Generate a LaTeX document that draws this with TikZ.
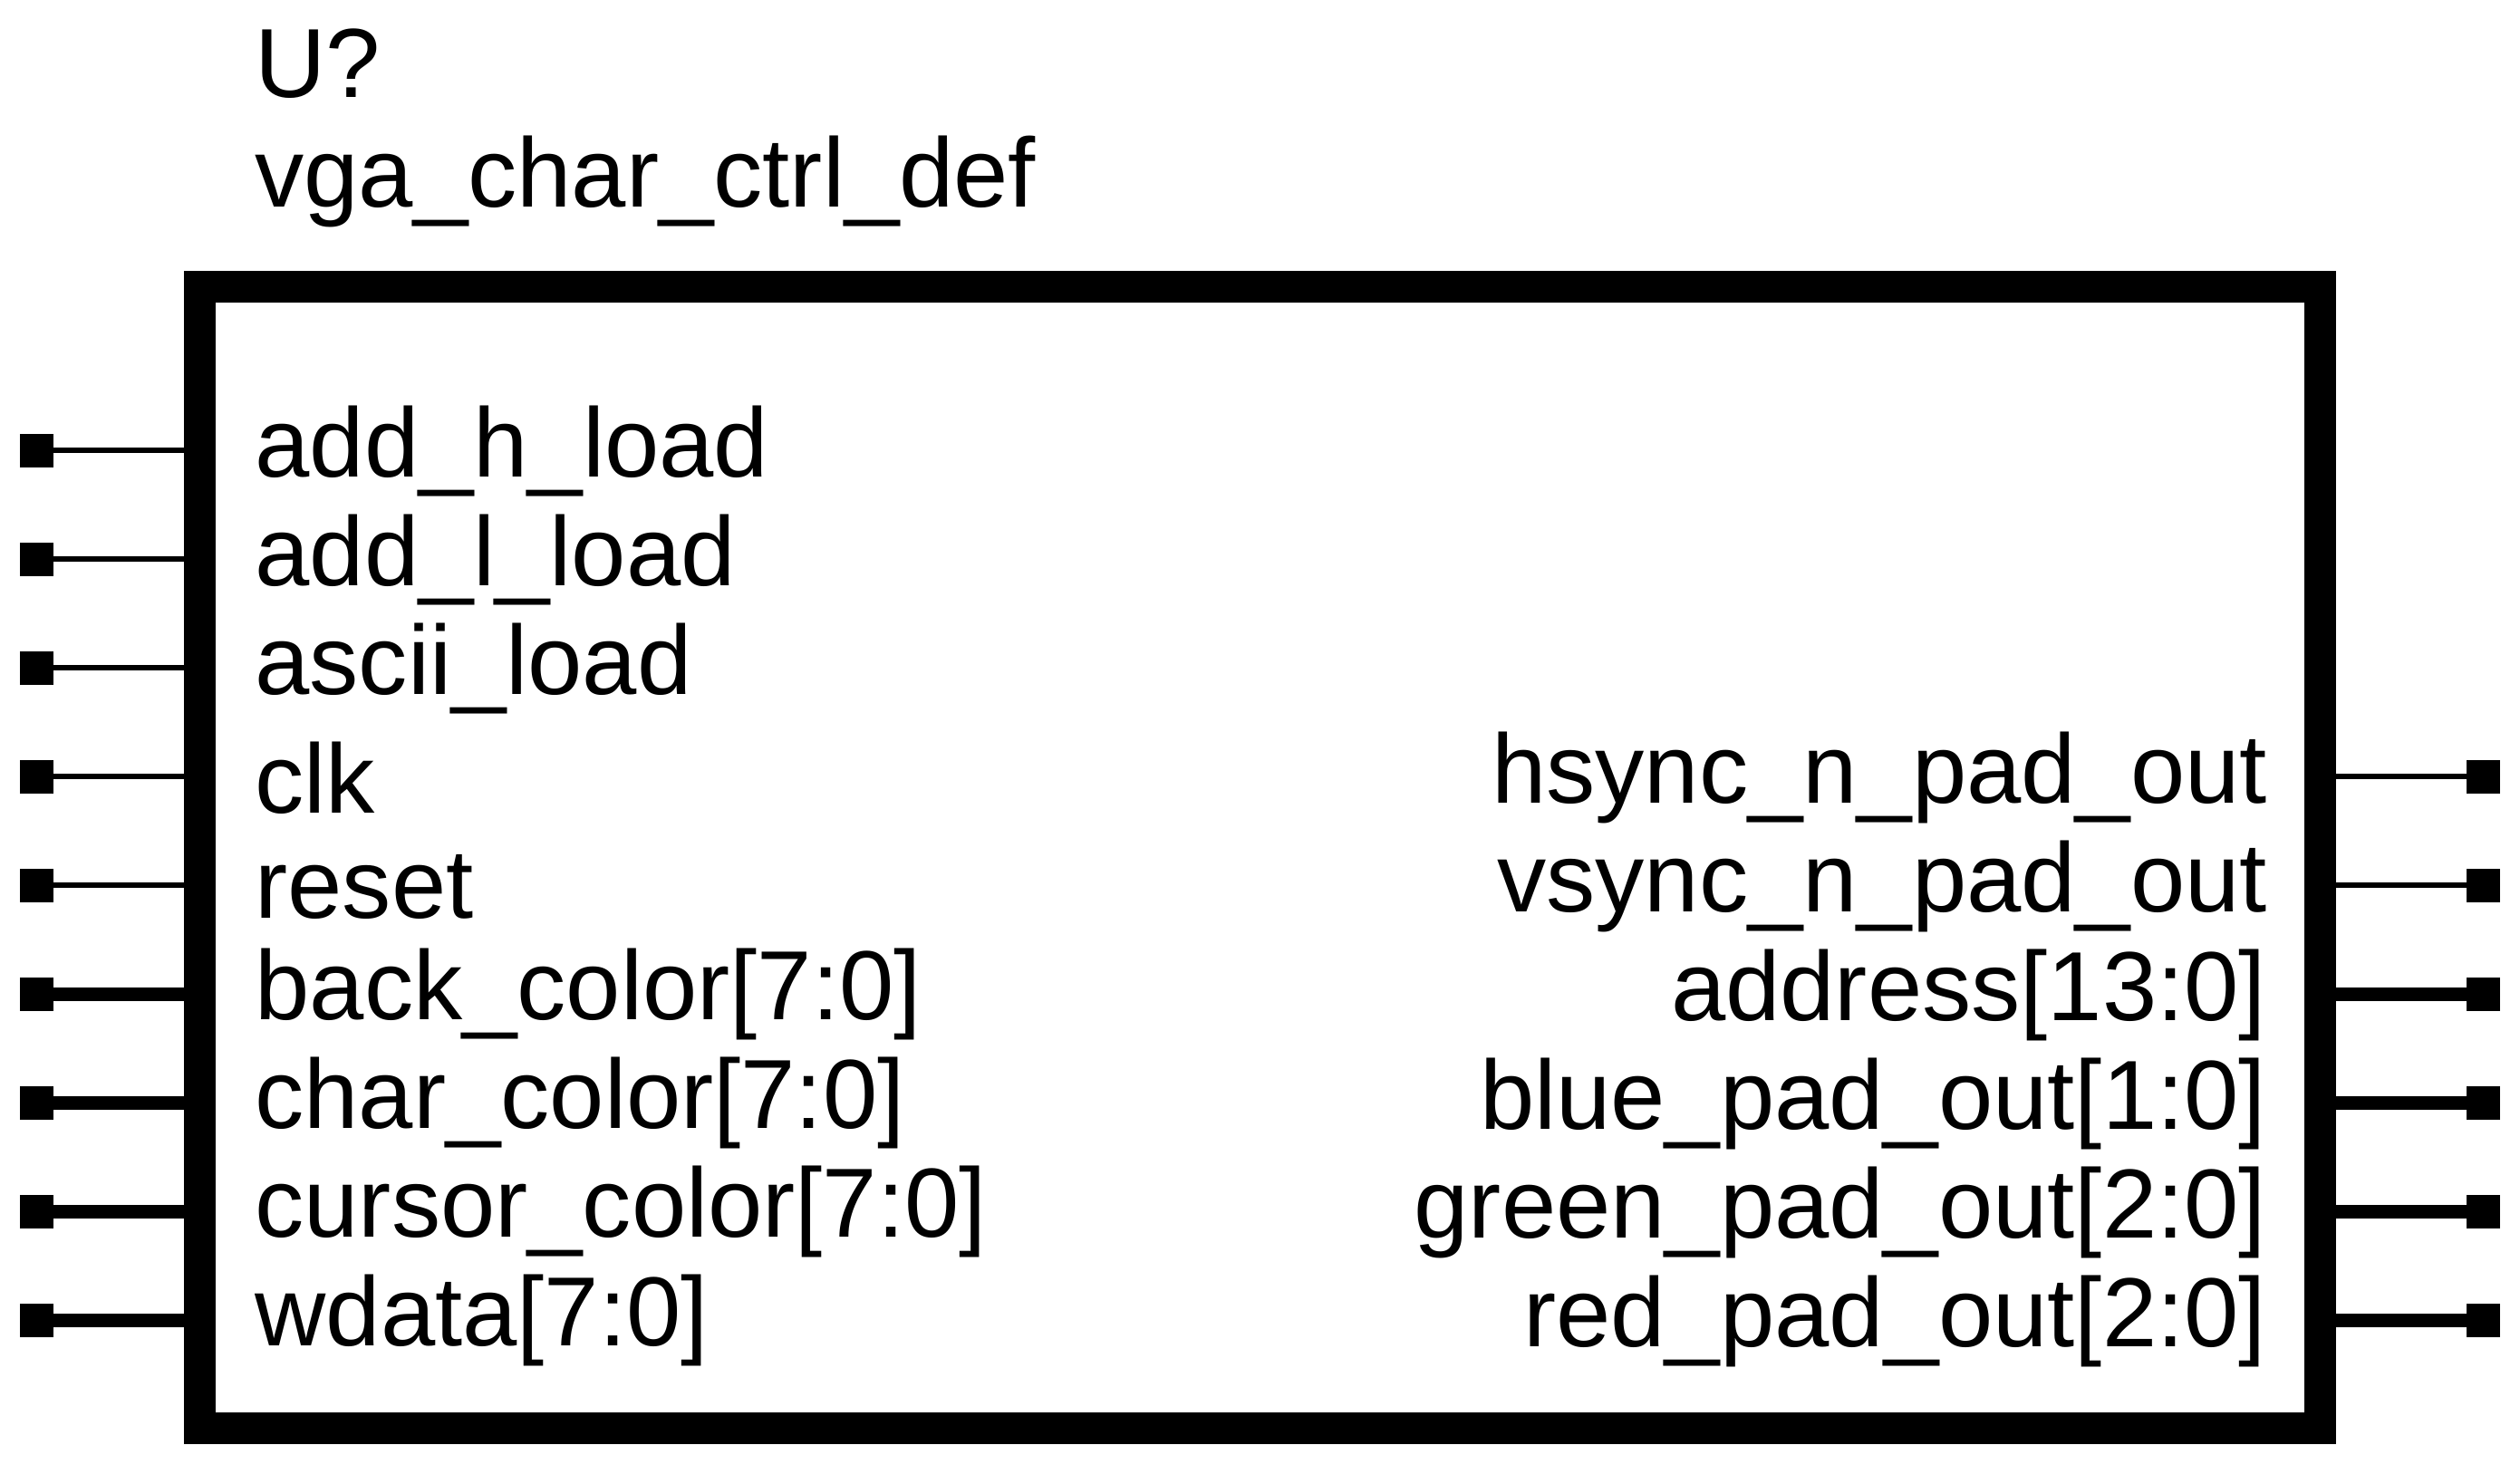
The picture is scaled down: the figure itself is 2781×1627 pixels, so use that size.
\documentclass[tikz,border=0pt]{standalone}
\usepackage{fontspec}
\setmainfont{Liberation Sans}
\tikzset{
  lbl/.style={inner sep=0pt,outer sep=0pt,font=\fontsize{108.4}{120}\selectfont},
  lleft/.style={lbl,anchor=base west},
  lright/.style={lbl,anchor=base east},
  pinsq/.style={fill=black,draw=none,minimum size=37pt,inner sep=0pt,outer sep=0pt},
  thinw/.style={line width=6.5pt},
  thickw/.style={line width=15pt},
  chip/.style={draw=black,fill=white,line width=35pt,rectangle,inner sep=0pt,outer sep=0pt,minimum width=2340pt,minimum height=1260pt}
}
\begin{document}
\begin{tikzpicture}[x=1pt,y=-1pt]
\useasboundingbox (0,0) rectangle (2781,1627);
\foreach \n/\y in {a/497,b/617,c/737,d/857,e/977,f/1097,g/1217,h/1337,i/1457}{
  \node[pinsq] (L\n) at (40.5,\y) {};
}
\foreach \n/\y in {d/857,e/977,f/1097,g/1217,h/1337,i/1457}{
  \node[pinsq] (R\n) at (2740,\y) {};
}
\node[chip] (box) at (1390,946) {};
\foreach \n in {a,b,c,d,e}{ \draw[thinw] (L\n.center) -- (L\n.center -| box.west); }
\foreach \n in {f,g,h,i}{ \draw[thickw] (L\n.center) -- (L\n.center -| box.west); }
\foreach \n in {d,e}{ \draw[thinw] (R\n.center) -- (R\n.center -| box.east); }
\foreach \n in {f,g,h,i}{ \draw[thickw] (R\n.center) -- (R\n.center -| box.east); }
\node[lleft] (t1) at (281.5,108) {U?};
\node[lleft] (t2) at (281.5,228) {vga\_char\_ctrl\_def};
\node[lleft] (p1) at (281.5,526) {add\_h\_load};
\node[lleft] (p2) at (281.5,646) {add\_l\_load};
\node[lleft] (p3) at (281.5,766) {ascii\_load};
\node[lleft] (p4) at (281.5,897) {clk};
\node[lleft] (p5) at (281.5,1013) {reset};
\node[lleft] (p6) at (281.5,1125) {back\_color[7:0]};
\node[lleft] (p7) at (281.5,1245) {char\_color[7:0]};
\node[lleft] (p8) at (281.5,1365) {cursor\_color[7:0]};
\node[lleft] (p9) at (281.5,1485) {wdata[7:0]};
\node[lright] (q1) at (2502,886) {hsync\_n\_pad\_out};
\node[lright] (q2) at (2502,1006) {vsync\_n\_pad\_out};
\node[lright] (q3) at (2501,1126) {address[13:0]};
\node[lright] (q4) at (2501,1246) {blue\_pad\_out[1:0]};
\node[lright] (q5) at (2501,1366) {green\_pad\_out[2:0]};
\node[lright] (q6) at (2501,1486) {red\_pad\_out[2:0]};
\end{tikzpicture}
\end{document}
